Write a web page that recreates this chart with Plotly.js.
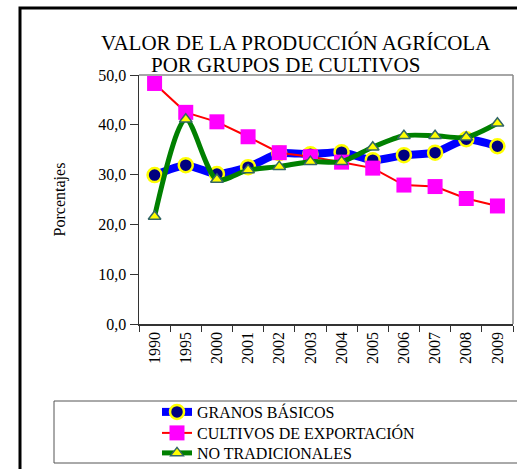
<!DOCTYPE html>
<html>
<head>
<meta charset="utf-8">
<script src="https://cdn.plot.ly/plotly-3.0.1.min.js"></script>
<style>html,body{margin:0;padding:0;background:#fff;}#chart{width:517px;height:469px;}</style>
</head>
<body>
<div id="chart"></div>
<script>
var years = ["1990","1995","2000","2001","2002","2003","2004","2005","2006","2007","2008","2009"];
var granosBasicos = [29.9, 31.9, 30.1, 31.5, 34.3, 34.1, 34.5, 32.9, 33.9, 34.4, 37.1, 35.7];
var cultivosExportacion = [48.3, 42.5, 40.6, 37.6, 34.4, 33.6, 32.5, 31.3, 27.9, 27.6, 25.2, 23.7];
var noTradicionales = [21.6, 41.1, 29.0, 30.9, 31.6, 32.6, 32.6, 35.5, 37.8, 37.8, 37.5, 40.3];
var seriesNames = ["GRANOS BÁSICOS", "CULTIVOS DE EXPORTACIÓN", "NO TRADICIONALES"];
var titleLines = ["VALOR DE LA PRODUCCIÓN AGRÍCOLA", "POR GRUPOS DE CULTIVOS"];
var yTicks = [0, 10, 20, 30, 40, 50];

var F = "Liberation Serif, Times New Roman, serif";

var traces = [
  {
    x: years, y: granosBasicos, name: seriesNames[0], type: "scatter", mode: "lines+markers", legend: "legend",
    line: {color: "#0000FF", width: 8, shape: "spline", smoothing: 0.6},
    marker: {symbol: "circle", size: 14, color: "#000080", line: {color: "#FFFF00", width: 2.5}}
  },
  {
    x: years, y: cultivosExportacion, name: seriesNames[1], type: "scatter", mode: "lines+markers", legend: "legend2",
    line: {color: "#FF0000", width: 2},
    marker: {symbol: "square", size: 15, color: "#FF00FF"}
  },
  {
    x: years, y: noTradicionales, name: seriesNames[2], type: "scatter", mode: "lines+markers", legend: "legend3",
    line: {color: "#008000", width: 5, shape: "spline", smoothing: 0.8},
    marker: {symbol: "triangle-up", size: 11, color: "#FFFF00", line: {color: "#336666", width: 1.5}}
  }
];

function px(x){ return (x - 139) / 374; }
function py(y){ return (324 - y) / 249; }

function leg(yc){
  return {
    x: px(157), y: py(yc), xanchor: "left", yanchor: "middle",
    bgcolor: "rgba(0,0,0,0)", borderwidth: 0,
    font: {family: F, size: 16, color: "#000"}
  };
}

var layout = {
  width: 517, height: 469,
  margin: {l: 139, r: 4, t: 75, b: 145, autoexpand: false},
  paper_bgcolor: "#ffffff", plot_bgcolor: "#ffffff",
  separators: ",.",
  font: {family: F, size: 16, color: "#000"},
  showlegend: true,
  legend: leg(412),
  legend2: leg(433),
  legend3: leg(453),
  xaxis: {
    type: "category", range: [-0.5, 11.5],
    showgrid: false, zeroline: false, automargin: false,
    showline: true, linecolor: "#333", linewidth: 1.5,
    ticks: "outside", tickson: "boundaries", ticklen: 6, tickcolor: "#333",
    tickangle: -90, tickfont: {family: F, size: 16, color: "#000"}
  },
  yaxis: {
    range: [0, 50], tickvals: yTicks, tickformat: ".1f",
    showgrid: false, zeroline: false, automargin: false,
    showline: true, linecolor: "#333", linewidth: 1.5,
    ticks: "outside", ticklen: 8, tickcolor: "#333",
    tickfont: {family: F, size: 16, color: "#000"},
    title: {text: "Porcentajes", font: {family: F, size: 16, color: "#000"}, standoff: 28}
  },
  annotations: [
    {text: titleLines[0], xref: "paper", yref: "paper", x: px(296), y: py(43), xanchor: "center", yanchor: "middle",
     showarrow: false, font: {family: F, size: 21, color: "#000"}},
    {text: titleLines[1], xref: "paper", yref: "paper", x: px(285), y: py(65), xanchor: "center", yanchor: "middle",
     showarrow: false, font: {family: F, size: 21, color: "#000"}}
  ],
  shapes: [
    {type: "line", xref: "paper", yref: "paper", x0: 0, x1: 1, y0: 1, y1: 1, line: {color: "#888", width: 1.5}},
    {type: "line", xref: "paper", yref: "paper", x0: 1, x1: 1, y0: 0, y1: 1, line: {color: "#888", width: 1.5}},
    {type: "rect", xref: "paper", yref: "paper", x0: px(54), x1: px(530), y0: py(463), y1: py(401), line: {color: "#555", width: 1}},
    {type: "rect", xref: "paper", yref: "paper", x0: px(20), x1: px(540), y0: py(490), y1: py(8), line: {color: "#000", width: 3}}
  ]
};

Plotly.newPlot("chart", traces, layout, {displayModeBar: false, staticPlot: true});
</script>
</body>
</html>
